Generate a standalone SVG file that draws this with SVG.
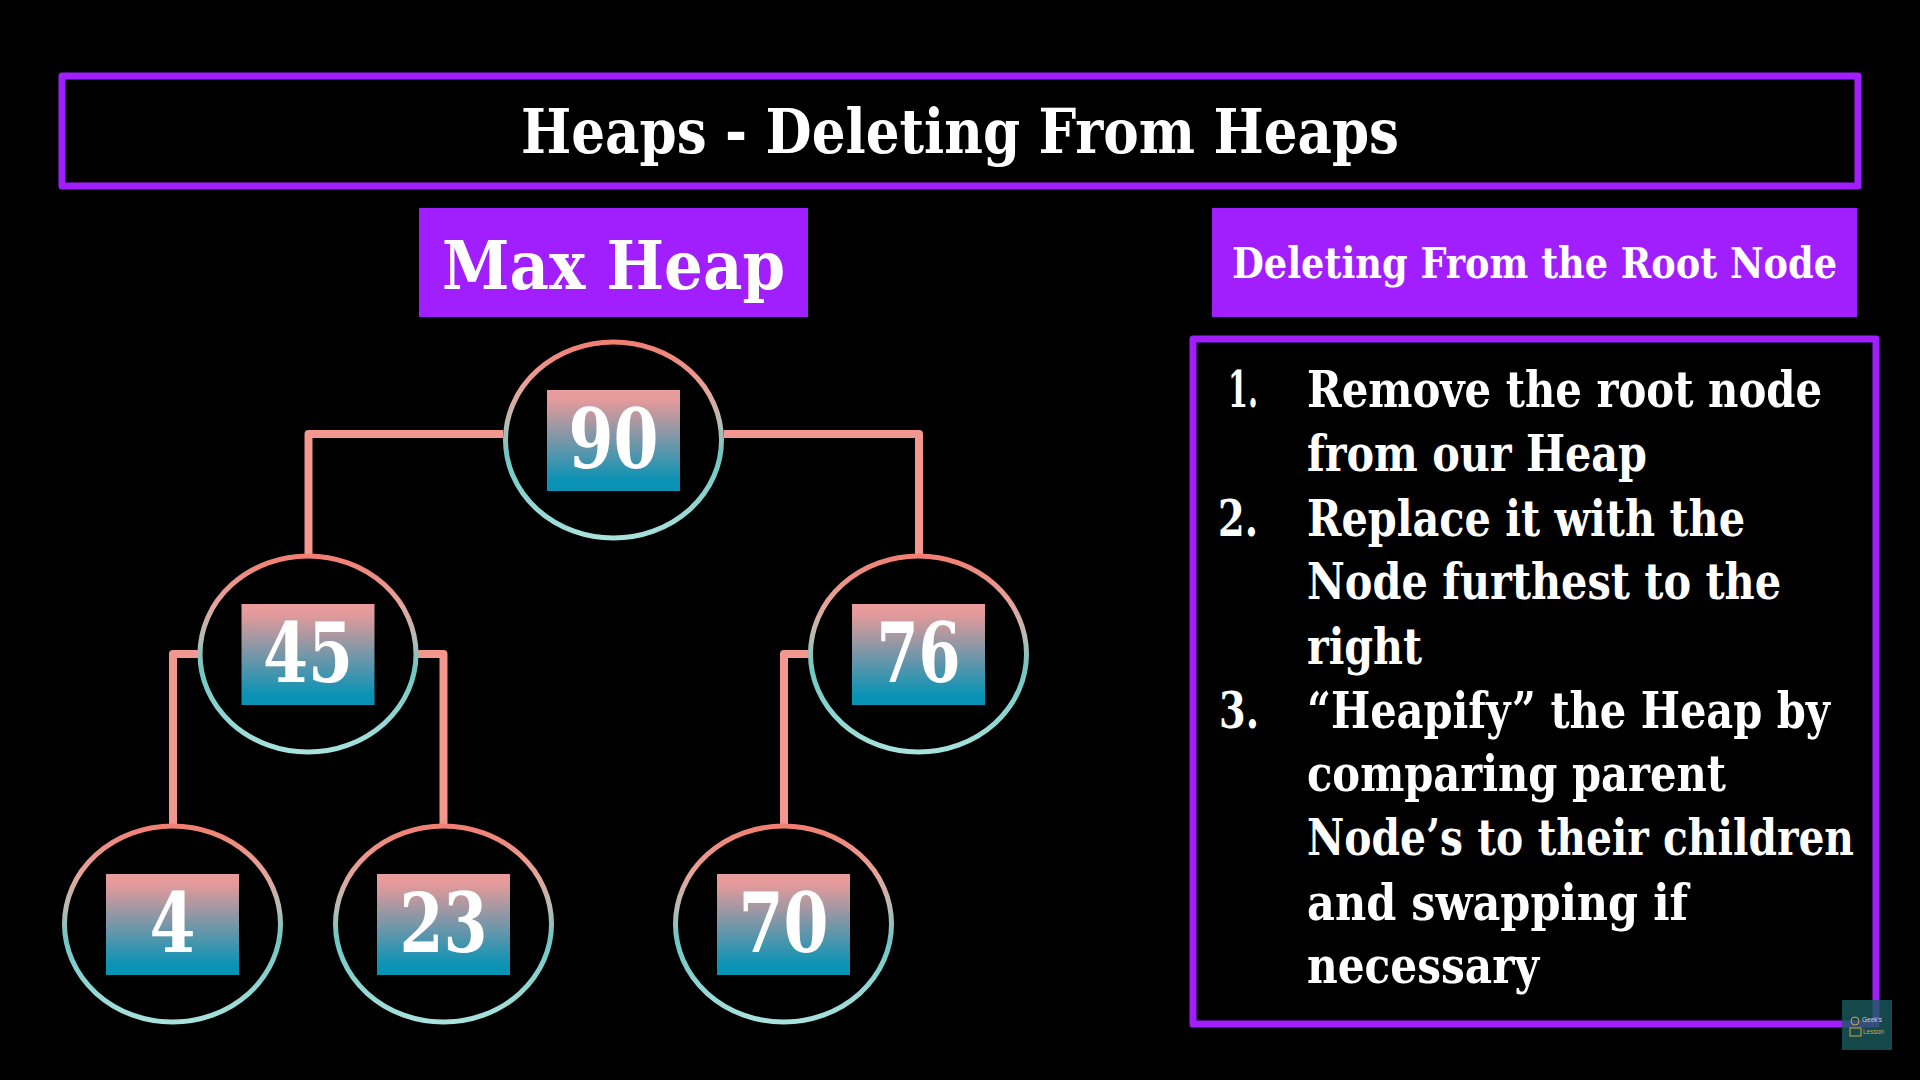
<svg xmlns="http://www.w3.org/2000/svg" width="1920" height="1080" viewBox="0 0 1920 1080">
<style>
text{font-family:"DejaVu Serif Condensed","DejaVu Serif","Liberation Serif",serif;font-weight:700;fill:#fff}
.frame{fill:none;stroke:#a11fff;stroke-width:7;stroke-linejoin:round}
.band{fill:#a11fff}
.conn{fill:none;stroke:#f4978e;stroke-width:8;stroke-linejoin:round}
.ring{fill:#000;stroke:url(#ringG);stroke-width:5}
.box{fill:url(#boxG)}
.val{font-size:82px;text-anchor:middle}
.li{font-size:50px}
</style>
<defs>
<linearGradient id="ringG" x1="0" y1="0" x2="0" y2="1"><stop offset="0" stop-color="#f17f72"/><stop offset=".25" stop-color="#e6a59c"/><stop offset=".42" stop-color="#b5bcb5"/><stop offset=".58" stop-color="#6fc6c4"/><stop offset="1" stop-color="#a8e2dc"/></linearGradient>
<linearGradient id="boxG" x1="0" y1="0" x2="0" y2="1"><stop offset="0" stop-color="#ea9c9c"/><stop offset=".1" stop-color="#e49a9b"/><stop offset=".9" stop-color="#0a93b5"/><stop offset="1" stop-color="#0891b2"/></linearGradient>
</defs>
<rect width="1920" height="1080" fill="#000"/>
<g id="title"><rect class="frame" x="62" y="76" width="1796" height="110"/><text x="960" y="153" font-size="62" text-anchor="middle" textLength="878" lengthAdjust="spacingAndGlyphs">Heaps - Deleting From Heaps</text></g>
<g id="maxheap"><rect class="band" x="419" y="208" width="389" height="109"/><text x="442" y="289" font-size="68" textLength="343" lengthAdjust="spacingAndGlyphs">Max Heap</text></g>
<g id="subtitle"><rect class="band" x="1212" y="208" width="645" height="109"/><text x="1232" y="278" font-size="43" textLength="605" lengthAdjust="spacingAndGlyphs">Deleting From the Root Node</text></g>
<g id="connectors">
<path class="conn" d="M503 434H308.500V556"/>
<path class="conn" d="M724 434H919V556"/>
<path class="conn" d="M200 654H173V828"/>
<path class="conn" d="M416 654H443.500V828"/>
<path class="conn" d="M810 654H784V828"/>
</g>
<g id="n90"><ellipse class="ring" cx="613.500" cy="440" rx="108" ry="98"/><rect class="box" x="547" y="390" width="133" height="101"/><text class="val" x="613.500" y="468" textLength="90" lengthAdjust="spacingAndGlyphs">90</text></g>
<g id="n45"><ellipse class="ring" cx="308" cy="654" rx="108" ry="98"/><rect class="box" x="241.500" y="604" width="133" height="101"/><text class="val" x="308" y="682" textLength="90" lengthAdjust="spacingAndGlyphs">45</text></g>
<g id="n76"><ellipse class="ring" cx="918.500" cy="654" rx="108" ry="98"/><rect class="box" x="852" y="604" width="133" height="101"/><text class="val" x="918.500" y="682" textLength="84" lengthAdjust="spacingAndGlyphs">76</text></g>
<g id="n4"><ellipse class="ring" cx="172.500" cy="924" rx="108" ry="98"/><rect class="box" x="106" y="874" width="133" height="101"/><text class="val" x="172.500" y="952" textLength="46" lengthAdjust="spacingAndGlyphs">4</text></g>
<g id="n23"><ellipse class="ring" cx="443.500" cy="924" rx="108" ry="98"/><rect class="box" x="377" y="874" width="133" height="101"/><text class="val" x="443.500" y="952" textLength="88" lengthAdjust="spacingAndGlyphs">23</text></g>
<g id="n70"><ellipse class="ring" cx="783.500" cy="924" rx="108" ry="98"/><rect class="box" x="717" y="874" width="133" height="101"/><text class="val" x="783.500" y="952" textLength="90" lengthAdjust="spacingAndGlyphs">70</text></g>
<g id="steps">
<rect class="frame" x="1193" y="339" width="683" height="685"/>
<text class="li" x="1228" y="407" textLength="30" lengthAdjust="spacingAndGlyphs">1.</text>
<text class="li" x="1307" y="407" textLength="515" lengthAdjust="spacingAndGlyphs">Remove the root node</text>
<text class="li" x="1307" y="471" textLength="340" lengthAdjust="spacingAndGlyphs">from our Heap</text>
<text class="li" x="1218" y="536" textLength="40" lengthAdjust="spacingAndGlyphs">2.</text>
<text class="li" x="1307" y="536" textLength="438" lengthAdjust="spacingAndGlyphs">Replace it with the</text>
<text class="li" x="1307" y="599" textLength="474" lengthAdjust="spacingAndGlyphs">Node furthest to the</text>
<text class="li" x="1307" y="664" textLength="115" lengthAdjust="spacingAndGlyphs">right</text>
<text class="li" x="1219" y="728" textLength="40" lengthAdjust="spacingAndGlyphs">3.</text>
<text class="li" x="1307" y="728" textLength="523" lengthAdjust="spacingAndGlyphs">“Heapify” the Heap by</text>
<text class="li" x="1307" y="791" textLength="419" lengthAdjust="spacingAndGlyphs">comparing parent</text>
<text class="li" x="1307" y="855" textLength="547" lengthAdjust="spacingAndGlyphs">Node’s to their children</text>
<text class="li" x="1307" y="920" textLength="381" lengthAdjust="spacingAndGlyphs">and swapping if</text>
<text class="li" x="1307" y="983" textLength="232" lengthAdjust="spacingAndGlyphs">necessary</text>
</g>
<g id="badge">
<rect x="1842" y="1000" width="50" height="50" fill="#1a5a5c" fill-opacity=".8"/>
<circle cx="1855" cy="1021" r="4" fill="none" stroke="#c9a84a" stroke-width="1"/>
<rect x="1850" y="1028" width="11" height="8" fill="none" stroke="#c9a84a" stroke-width="1"/>
<text x="1862" y="1022" font-size="6.500" style="font-family:'Liberation Sans',sans-serif;font-weight:400;fill:#d7c9e8">Geek's</text>
<text x="1863" y="1034" font-size="6.500" style="font-family:'Liberation Sans',sans-serif;font-weight:400;fill:#c9a84a">Lesson</text>
</g>
</svg>
